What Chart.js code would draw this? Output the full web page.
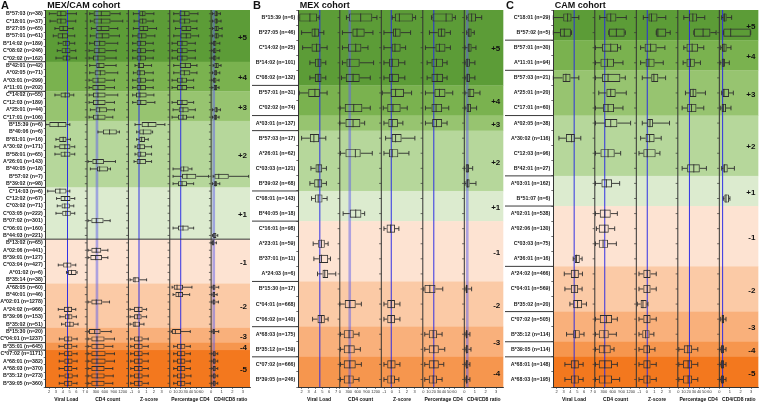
<!DOCTYPE html>
<html>
<head>
<meta charset="utf-8">
<script src="https://cdn.jsdelivr.net/npm/chart.js@4.4.0/dist/chart.umd.min.js"></script>
<style>
  html, body { margin: 0; padding: 0; background: #fff; }
  #wrap { position: relative; width: 760px; height: 403px; overflow: hidden; }
  .panel { position: absolute; top: 0; height: 403px; }
</style>
</head>
<body>
<div id="wrap">
  <div class="panel" style="left:0;width:252px"><canvas id="panelA"></canvas></div>
  <div class="panel" style="left:252px;width:253px"><canvas id="panelB"></canvas></div>
  <div class="panel" style="left:505px;width:255px"><canvas id="panelC"></canvas></div>
</div>
<script>
// ---- data: each box is [low whisker, Q1, median, Q3, high whisker], null = not shown
const N = null;
const columnTitles = ["Viral Load", "CD4 count", "Z-score", "Percentage CD4", "CD4/CD8 ratio"];
const vlTicks = [2, 3, 4, 5, 6, 7];
const cd4Ticks = [0, 300, 600, 900, 1200];
const zTicks = [-1, 0, 1, 2, 3];
const pctTicks = [0, 10, 20, 30, 40, 50, 60];
const ratioTicks = [0, 1, 2, 3];

// ---------- A: MEX/CAM cohort
const mexcamAlleles = [
  "B*57:03 (n=38)", "C*18:01 (n=37)", "B*27:05 (n=65)", "B*57:01 (n=61)", "B*14:02 (n=189)", "C*08:02 (n=246)", "C*02:02 (n=162)",
  "B*42:01 (n=42)", "A*02:05 (n=71)", "A*03:01 (n=299)", "A*11:01 (n=202)",
  "C*14:02 (n=55)", "C*12:03 (n=189)", "A*25:01 (n=44)", "C*17:01 (n=106)",
  "B*15:39 (n=6)", "B*40:06 (n=6)", "B*81:01 (n=16)", "A*30:02 (n=171)", "B*58:01 (n=65)", "A*26:01 (n=143)", "B*40:05 (n=18)", "B*57:02 (n=7)", "B*39:02 (n=98)",
  "C*14:03 (n=6)", "C*12:02 (n=67)", "C*03:02 (n=71)", "C*03:05 (n=222)", "B*07:02 (n=301)", "C*06:01 (n=160)", "B*44:03 (n=221)",
  "B*13:02 (n=65)", "A*02:06 (n=441)", "B*39:01 (n=127)", "C*03:04 (n=427)", "A*01:02 (n=6)", "B*35:14 (n=38)",
  "A*68:05 (n=60)", "B*40:01 (n=46)", "A*02:01 (n=1278)", "A*24:02 (n=966)", "B*39:06 (n=153)", "B*35:02 (n=51)",
  "B*15:30 (n=20)", "C*04:01 (n=1237)",
  "B*35:01 (n=645)",
  "C*07:02 (n=1171)", "A*68:01 (n=382)", "A*68:03 (n=370)", "B*35:12 (n=273)", "B*39:05 (n=360)"
];
const mexcamBandSizes = [7, 4, 4, 9, 7, 6, 6, 2, 1, 5];
const mexcamBandScores = ["+5", "+4", "+3", "+2", "+1", "-1", "-2", "-3", "-4", "-5"];
const mexcamRefs = [4.69, 333, 0.01, 20.2, 0.25];

const mexcamVL = [
  [2.03,3.1,3.72,4.54,5.99], [2.13,3.1,3.72,4.54,5.9], [2.85,3.48,4.06,4.78,5.51], [2.61,3.24,3.96,4.78,5.75], [3.34,3.96,4.45,5.03,5.75], [3.19,3.82,4.45,5.12,5.9], [3.0,3.96,4.54,5.12,5.99],
  N, N, N, N,
  [2.85,3.67,4.35,5.03,5.61], N, N, N,
  [1.5,2.03,3.34,4.54,5.03], N, [3.0,3.48,4.06,4.54,5.12], [2.85,3.48,4.3,5.12,5.75], [2.85,3.67,4.3,5.12,5.75], N, N, N, N,
  [1.79,2.85,3.58,4.54,5.03], [3.09,3.67,4.3,5.12,5.75], [3.19,3.82,4.3,5.03,5.61], [3.0,3.92,4.45,5.17,5.75], N, N, N,
  N, N, N, [3.34,4.06,4.64,5.27,5.9], [4.54,4.78,5.27,5.99,6.09], N,
  N, N, N, [3.34,4.16,4.78,5.36,5.9], [3.58,4.3,4.88,5.41,5.99], [3.82,4.3,5.03,5.61,6.23],
  N, [3.5,4.2,4.78,5.4,6.1],
  [3.45,4.2,4.75,5.4,6.05],
  [3.5,4.2,4.78,5.41,6.09], [3.48,4.22,4.8,5.42,6.1], [3.46,4.2,4.78,5.4,6.05], [3.5,4.24,4.82,5.45,6.12], [3.48,4.2,4.78,5.4,6.08]
];
const mexcamCD4 = [
  [90,220,480,790,1110], [110,220,480,790,1200], [144,311,477,755,1032], [111,289,511,755,1088], [89,233,422,622,1032], [67,222,400,622,977], [67,200,366,622,977],
  [89,311,400,588,977], [89,255,444,622,1032], [67,178,366,622,921], [67,178,366,622,921],
  [67,200,366,622,1032], [67,200,366,622,921], [111,289,422,666,921], [67,200,366,622,866],
  N, [366,533,755,999,1088], N, N, N, [33,178,311,566,955], [111,333,422,700,788], N, N,
  N, N, N, N, [33,144,311,555,777], N, N,
  N, [33,144,311,477,700], [33,111,289,500,700], N, N, N,
  N, N, [33,144,311,511,755], N, N, N,
  [33,67,255,455,810], [33,144,333,588,921],
  [33,144,333,588,866],
  [33,144,333,622,921], [33,144,333,622,921], [33,144,333,588,866], [33,144,340,590,880], [33,144,333,588,866]
];
const mexcamZ = [
  [-0.74,0.05,0.49,0.89,1.99], [-0.65,0.05,0.49,1.02,1.9], [-0.74,0.05,0.58,1.24,2.34], [-0.83,-0.21,0.36,1.02,2.12], [-0.83,-0.3,0.23,0.93,1.9], [-0.83,-0.3,0.23,0.93,1.99], [-0.83,-0.3,0.23,0.93,1.9],
  [-0.52,-0.17,0.05,0.67,1.68], [-0.74,-0.3,0.14,0.8,1.9], [-0.83,-0.3,0.23,0.93,1.9], [-0.83,-0.3,0.23,0.93,1.9],
  [-0.83,-0.39,0.14,1.02,1.99], [-0.83,-0.3,0.23,1.02,2.12], N, N,
  [-0.52,0.36,1.24,2.34,3.45], [-0.3,0.05,0.58,1.68,1.82], [-0.3,0.05,0.36,0.8,1.24], [-0.52,-0.3,0.14,0.8,1.68], [-0.52,-0.21,0.23,0.93,1.68], [-0.65,-0.3,0.14,0.93,1.68], N, N, N,
  N, N, N, N, N, N, N,
  N, N, N, N, N, [-1.18,-0.83,-0.52,0.05,1.02],
  N, N, N, [-1.18,-0.65,-0.08,0.49,1.02], [-1.18,-0.65,-0.21,0.36,1.02], [-1.18,-0.83,-0.52,0.14,0.67],
  N, [-1.09,-0.65,-0.08,0.49,1.24],
  [-1.09,-0.65,-0.08,0.49,1.24],
  [-1.09,-0.65,-0.08,0.49,1.24], [-1.09,-0.65,-0.08,0.49,1.24], [-1.09,-0.65,-0.08,0.49,1.24], [-1.09,-0.65,-0.08,0.49,1.24], [-1.09,-0.65,-0.08,0.49,1.24]
];
const mexcamPct = [
  [6.7,17.6,27.8,37.5,53.5], [6.7,17.6,27.8,38.7,51.6], [9.9,21.4,31,40.7,51.6], [6.7,19.5,31,40.7,54.8], [3.5,13.1,22.7,33.6,48.4], [3.5,13.1,22.7,33.6,48.4], [3.5,13.1,22.7,33.6,48.4],
  [6.7,18.2,29.1,40,51.6], [6.7,18.2,27.2,38.7,51.6], [3.5,13.1,22.7,32.3,45.2], [3.5,13.1,22.7,32.3,45.2],
  N, [3.5,13.1,22.7,33.6,45.2], [5.4,16.3,24.6,35.5,48.4], [3.5,15,24.6,32.3,45.2],
  N, N, N, N, N, N, [5.4,19.5,25.9,35.5,41.9], [5.4,22.7,32.3,50.3,74], [5.4,15,22.7,32.3,45.2],
  N, N, N, N, N, [5.4,15,24.6,35.5,45.2], N,
  N, N, N, N, N, N,
  [3.5,6.7,13.1,24.6,41.9], [5.4,9.9,16.3,24.6,37.5], N, N, N, N,
  [1.6,3.5,9.9,20.8,38.7], N,
  [6.7,13.1,20.8,29.1,38.7],
  [6.7,13.1,20.8,29.1,38.7], [6.7,13.1,20.8,29.1,38.7], [6.7,13.1,20.8,29.1,38.7], [6.7,13.1,20.8,29.1,40], [6.7,13.1,20.8,29.1,38.7]
];
const mexcamRatio = [
  [0.13,0.31,0.5,0.63,0.88], [0.13,0.31,0.5,0.63,0.94], [0.13,0.31,0.5,0.72,1.04], [0.13,0.31,0.5,0.72,1.04], [0.06,0.19,0.31,0.5,0.82], [0.06,0.19,0.31,0.5,0.82], [0.06,0.19,0.31,0.5,0.75],
  [0.19,0.31,0.5,0.72,0.94], [0.13,0.25,0.44,0.57,0.82], [0.06,0.19,0.31,0.5,0.75], [0.06,0.25,0.41,0.57,0.75],
  N, N, [0.13,0.31,0.5,0.63,0.88], [0.13,0.25,0.41,0.57,0.75],
  N, N, N, N, N, N, N, [0.19,0.31,0.72,1.67,3.55], [0.13,0.25,0.41,0.57,0.82],
  N, N, N, N, N, N, [0.13,0.19,0.35,0.5,0.63],
  [0.0,0.09,0.19,0.31,0.5], N, N, N, N, N,
  [0.06,0.13,0.25,0.41,0.72], [0.06,0.13,0.25,0.38,0.57], [0.06,0.13,0.25,0.41,0.69], N, N, N,
  [0.06,0.13,0.25,0.35,0.72], N,
  N,
  [0.06,0.16,0.28,0.44,0.63], [0.06,0.16,0.28,0.44,0.63], [0.06,0.16,0.28,0.44,0.63], [0.06,0.16,0.28,0.44,0.63], [0.06,0.16,0.28,0.44,0.63]
];

// ---------- B: MEX cohort
const mexAlleles = [
  "B*15:39 (n=6)", "B*27:05 (n=46)", "C*14:02 (n=25)", "B*14:02 (n=101)", "C*08:02 (n=132)",
  "B*57:01 (n=31)", "C*02:02 (n=74)",
  "A*03:01 (n=137)",
  "B*57:03 (n=17)", "A*26:01 (n=62)", "C*03:03 (n=121)", "B*39:02 (n=68)",
  "C*08:01 (n=143)", "B*40:05 (n=18)",
  "C*16:01 (n=98)", "A*23:01 (n=59)", "B*37:01 (n=11)", "A*24:03 (n=6)",
  "B*15:30 (n=17)", "C*04:01 (n=668)", "C*06:02 (n=140)",
  "A*68:03 (n=175)", "B*35:12 (n=159)",
  "C*07:02 (n=666)", "B*39:05 (n=246)"
];
const mexBandSizes = [5, 2, 1, 4, 2, 4, 3, 2, 2];
const mexBandScores = ["+5", "+4", "+3", "+2", "+1", "-1", "-2", "-3", "-4"];
const mexRefs = [4.64, 333, -0.08, 20.2, 0.28];

const mexVL = [
  [1.5,1.64,3.19,4.25,4.54], [1.98,3.43,3.92,4.54,5.22], [2.13,3.43,4.16,4.74,5.7], [3.19,3.92,4.4,4.88,5.51], [3.19,3.92,4.4,4.88,5.51],
  [1.64,2.95,3.92,4.64,5.7], N,
  N,
  [1.98,3.19,3.77,4.54,5.51], N, [3.34,4.01,4.4,4.98,5.6], [3.19,3.82,4.4,4.98,5.6],
  [3.43,3.92,4.4,5.03,5.7], N,
  N, [3.67,4.4,4.88,5.36,5.85], [3.77,4.5,4.88,5.85,6.19], [4.3,5.03,5.36,5.85,6.96],
  N, N, [3.58,4.3,4.88,5.36,5.85],
  N, N,
  N, N
];
const mexCD4 = [
  [222,311,699,1088,1243], [89,422,577,832,1110], [89,278,533,722,944], [89,222,333,666,1132], [55,200,444,666,1021],
  N, [10,166,466,755,1021],
  [0,189,444,688,832],
  N, [22,189,522,699,1088], N, N,
  N, [111,333,533,722,832],
  N, N, N, N,
  N, [0,166,333,533,722], N,
  [22,133,311,466,644], [22,133,311,500,688],
  [22,133,333,533,722], [22,133,311,466,644]
];
const mexZ = [
  [0.05,0.4,1.0,2.78,3.14], [-1.05,0.14,0.49,1.16,2.48], [-1.05,-0.03,0.41,1.16,1.82], [-1.05,-0.39,0.05,0.93,1.72], [-1.05,-0.39,0.05,0.93,1.72],
  [-1.27,-0.17,0.49,1.6,2.61], [-1.14,-0.61,0.14,1.16,2.04],
  [-1.05,-0.47,0.05,0.8,1.46],
  [-0.83,-0.03,0.49,1.29,3.05], [-1.05,-0.39,0.05,0.85,2.26], N, N,
  N, N,
  [-1.05,-0.7,-0.17,0.41,0.93], N, N, N,
  N, [-1.05,-0.61,-0.08,0.41,1.07], [-1.05,-0.61,-0.08,0.41,1.07],
  N, N,
  [-1.05,-0.61,-0.08,0.49,1.07], [-1.05,-0.61,-0.08,0.41,0.93]
];
const mexPct = [
  [15.7,17.6,43.9,56.7,61.8], [11.8,27.8,34.9,42.6,52.2], [4.1,23.4,31.1,42.6,52.2], [7.3,15.7,25.3,38.1,45.8], [7.3,15.7,26.6,38.1,45.8],
  [4.1,21.4,31.1,42.6,56.7], [4.1,15.7,24.6,36.2,49],
  [4.1,17,25.3,36.2,45.8],
  N, N, N, N,
  N, N,
  N, N, N, N,
  [0.9,2.2,12.5,23.4,37.5], N, N,
  [2.8,10.5,18.9,26.6,36.2], [2.8,10.5,20.2,29.8,41.3],
  [2.8,10.5,20.2,29.8,39.4], [2.8,10.5,18.9,26.6,36.2]
];
const mexRatio = [
  [0.22,0.31,0.69,1.1,1.64], [0.22,0.31,0.44,0.69,0.94], [0.06,0.31,0.44,0.69,1.1], [0.06,0.13,0.31,0.53,1.0], [0.06,0.19,0.31,0.53,1.0],
  [0.06,0.31,0.53,0.94,1.48], [0.06,0.22,0.38,0.63,1.16],
  N,
  N, N, [0.0,0.13,0.28,0.44,0.79], [0.06,0.19,0.31,0.5,1.1],
  N, N,
  N, N, N, N,
  [0.06,0.13,0.22,0.31,0.69], N, N,
  [0.06,0.13,0.22,0.31,0.53], [0.06,0.13,0.22,0.38,0.63],
  [0.06,0.13,0.22,0.38,0.53], [0.06,0.13,0.22,0.31,0.53]
];

// ---------- C: CAM cohort
const camAlleles = [
  "C*18:01 (n=29)", "B*57:02 (n=5)",
  "B*57:01 (n=30)", "A*11:01 (n=94)",
  "B*57:03 (n=21)", "A*25:01 (n=20)", "C*17:01 (n=60)",
  "A*02:05 (n=38)", "A*30:02 (n=116)", "C*12:03 (n=96)", "B*42:01 (n=27)",
  "A*03:01 (n=162)", "B*51:07 (n=6)",
  "A*02:01 (n=538)", "A*02:06 (n=130)", "C*03:03 (n=75)", "A*36:01 (n=16)",
  "A*24:02 (n=466)", "C*04:01 (n=569)", "B*35:02 (n=20)",
  "C*07:02 (n=505)", "B*35:12 (n=114)",
  "B*39:05 (n=114)",
  "A*68:01 (n=148)", "A*68:03 (n=195)"
];
const camBandSizes = [2, 2, 3, 4, 2, 4, 3, 2, 1, 2];
const camBandScores = ["+5", "+4", "+3", "+2", "+1", "-1", "-2", "-3", "-4", "-5"];
const camRefs = [4.54, 333, 0.05, 21.4, 0.31];

const camVL = [
  [1.5,2.95,3.58,4.16,5.22], [1.5,2.47,3.1,4.06,4.16],
  N, N,
  [1.5,2.85,3.34,4.01,5.22], N, N,
  N, [2.32,3.34,4.16,4.64,5.51], N, N,
  N, N,
  N, N, N, [4.4,4.64,4.88,5.36,5.7],
  [3.1,4.06,4.64,5.22,5.75], [3.19,4.06,4.64,5.12,5.7], [3.92,4.4,5.03,5.7,6.33],
  N, [3.43,4.4,4.74,5.36,5.98],
  N,
  [3.19,4.06,4.64,5.22,5.85], [3.19,4.06,4.64,5.22,5.85]
];
const camCD4 = [
  [166,388,533,722,1054], [466,466,722,1000,1021],
  [22,244,533,777,866], [22,189,422,644,944],
  [22,244,444,855,1021], [133,388,533,699,1054], [22,278,444,644,944],
  [22,333,533,755,1199], N, [22,189,444,666,866], N,
  [22,222,388,577,832], N,
  [22,166,333,533,755], [55,133,333,466,666], [22,133,277,444,722], N,
  N, N, N,
  [22,166,388,577,755], [22,133,311,466,722],
  [22,133,311,533,644],
  [22,133,333,577,755], [22,133,333,577,832]
];
const camZ = [
  [-0.47,0.21,0.61,1.4,2.5], [1.24,1.24,1.46,2.56,3.09],
  [-0.83,-0.3,0.49,1.29,2.39], [-0.83,-0.17,0.27,1.02,2.17],
  [-0.61,0.58,0.93,1.51,2.48], N, N,
  [-0.61,0.05,0.41,0.8,3.0], [-0.83,-0.17,0.36,1.02,1.9], [-1.05,-0.47,0.05,1.16,1.73], N,
  N, N,
  N, N, N, N,
  [-1.05,-0.47,0.05,0.49,1.24], [-1.05,-0.47,0.05,0.49,1.24], [-1.27,-0.83,-0.52,-0.03,0.14],
  [-1.05,-0.47,0.05,0.49,1.24], [-1.05,-0.61,-0.17,0.36,0.93],
  [-1.05,-0.47,0.05,0.41,1.07],
  [-1.05,-0.47,0.05,0.49,1.24], [-1.05,-0.47,0.05,0.49,1.24]
];
const camPct = [
  [10.5,20.2,27.9,36.2,50.9], [29.8,29.8,47.7,61.8,72.7],
  [10.5,15.7,26.6,38.1,49], [9.2,15.7,23.4,31.7,42.6],
  N, [13.7,22.1,28.5,34.9,52.2], [7.3,17,25.3,34.9,49],
  N, N, N, [7.3,17,29.8,41.3,54.1],
  N, N,
  N, N, N, N,
  N, N, N,
  N, N,
  [0.9,10.5,18.2,26.6,37.5],
  [0.9,9.2,18.9,26.6,37.5], [0.9,9.2,18.9,26.6,37.5]
];
const camRatio = [
  [0.22,0.38,0.47,0.69,1.16], [0.38,0.38,1.07,2.96,2.96],
  [0.13,0.25,0.44,0.69,1.1], [0.06,0.22,0.38,0.53,0.94],
  N, [0.22,0.31,0.44,0.91,1.32], [0.13,0.22,0.38,0.63,1.1],
  N, N, N, [0.22,0.38,0.47,0.79,1.42],
  N, [0.38,0.47,0.63,0.91,1.0],
  N, N, N, N,
  N, N, N,
  [0.13,0.22,0.31,0.44,0.63], N,
  [0.06,0.16,0.28,0.44,0.63],
  [0.06,0.16,0.28,0.44,0.63], [0.06,0.16,0.28,0.44,0.63]
];

// ---- styling
const FONT = '"Liberation Sans", Arial, Helvetica, sans-serif';
Chart.defaults.font.family = FONT;
const boxColor = "#2e2e2e";
const scoreColors = {
  "+5": "#5c9c37", "+4": "#7ab24f", "+3": "#97c470", "+2": "#b6d79b", "+1": "#dcebcf",
  "-1": "#fde3d2", "-2": "#fbcaa6", "-3": "#f9b07b", "-4": "#f6964e", "-5": "#f3781e"
};
const axisSpecs = [
  { min: 1.5, max: 7.55, ticks: vlTicks, weight: 1 },
  { min: 0, max: 1390, ticks: cd4Ticks, weight: 1 },
  { min: -1.4, max: 4.1, ticks: zTicks, weight: 1 },
  { min: -1, max: 79, ticks: pctTicks, weight: 1 },
  { min: 0, max: 3.68, ticks: ratioTicks, weight: 0.94 }
];

function buildPanel(canvasId, p) {
  const n = p.alleles.length;
  const bandStarts = [];
  let acc = 0;
  p.bandSizes.forEach((sz) => { bandStarts.push(acc); acc += sz; });

  const datasets = p.columns.map((rows, i) => ({
    type: "bar",
    data: rows.map((r) => (r ? [r[1], r[3]] : null)),
    stats: rows,
    xAxisID: "x" + i,
    yAxisID: "y",
    grouped: false,
    barPercentage: p.barPct,
    categoryPercentage: 1,
    backgroundColor: "rgba(255,255,255,0)",
    borderColor: boxColor,
    borderWidth: 0.9,
    borderSkipped: false
  }));

  const scales = {
    y: {
      type: "category",
      offset: true,
      afterFit: (s) => { s.width = p.labelWidth; },
      grid: { display: true, drawOnChartArea: false, drawTicks: true, tickLength: 2, color: "#333", lineWidth: 0.7 },
      border: { display: true, color: "#333", width: 1 },
      ticks: { autoSkip: false, padding: 1, color: "#1a1a1a", font: { size: 5.3, weight: "bold" } }
    }
  };
  axisSpecs.forEach((a, i) => {
    scales["x" + i] = {
      type: "linear",
      position: "bottom",
      stack: "cols",
      stackWeight: a.weight,
      min: a.min,
      max: a.max,
      afterBuildTicks: (s) => { s.ticks = a.ticks.map((v) => ({ value: v })); },
      afterFit: (s) => { s.height = 16; },
      grid: { display: true, drawOnChartArea: false, drawTicks: true, tickLength: 2, color: "#333", lineWidth: 0.6 },
      border: { display: true, color: "#333", width: 1 },
      ticks: { autoSkip: false, maxRotation: 0, padding: 0.5, color: "#333", font: { size: 4 }, callback: (v) => String(v) },
      title: { display: true, text: columnTitles[i], color: "#111", font: { size: 5, weight: "bold" }, padding: { top: 1, bottom: 0 } }
    };
  });

  const panelPlugin = {
    id: "panel_" + canvasId,
    beforeDraw(chart) {
      const { ctx, chartArea: a } = chart;
      const ys = chart.scales.y;
      const rowH = a.height / n;
      ctx.save();
      p.bandSizes.forEach((sz, k) => {
        const top = ys.getPixelForValue(bandStarts[k]) - rowH / 2;
        ctx.fillStyle = scoreColors[p.bandScores[k]];
        ctx.fillRect(a.left, top, a.right - a.left, sz * rowH + 0.3);
      });
      ctx.restore();
    },
    beforeDatasetsDraw(chart) {
      const { ctx, chartArea: a } = chart;
      const ys = chart.scales.y;
      const rowH = a.height / n;
      ctx.save();
      // reference (median) lines
      p.refs.forEach((v, i) => {
        const xs = chart.scales["x" + i];
        const x = xs.getPixelForValue(v);
        ctx.beginPath();
        if (p.wideRefs.includes(i)) {
          ctx.strokeStyle = "rgba(95,95,235,0.5)";
          ctx.lineWidth = 2.6;
        } else {
          ctx.strokeStyle = "rgba(40,40,230,0.95)";
          ctx.lineWidth = 1;
        }
        ctx.moveTo(x, a.top);
        ctx.lineTo(x, a.bottom);
        ctx.stroke();
      });
      // sub-graph axis lines with row ticks
      ctx.strokeStyle = "#333";
      for (let i = 1; i < 5; i++) {
        const x = chart.scales["x" + i].left;
        ctx.lineWidth = 1;
        ctx.beginPath();
        ctx.moveTo(x, a.top);
        ctx.lineTo(x, a.bottom);
        ctx.stroke();
        ctx.lineWidth = 0.7;
        ctx.beginPath();
        for (let r = 0; r < n; r++) {
          const y = ys.getPixelForValue(r);
          ctx.moveTo(x - 2.2, y);
          ctx.lineTo(x, y);
        }
        ctx.stroke();
      }
      // group separators in the label area
      ctx.lineWidth = 1;
      ctx.strokeStyle = "#3a3a3a";
      for (let k = 1; k < p.bandSizes.length; k++) {
        const y = ys.getPixelForValue(bandStarts[k]) - rowH / 2;
        const full = p.fullSplit && p.bandScores[k] === "-1";
        ctx.beginPath();
        ctx.moveTo(p.sepLeft, y);
        ctx.lineTo(full ? a.right : a.left, y);
        ctx.stroke();
      }
      ctx.restore();
    },
    afterDatasetsDraw(chart) {
      const { ctx, chartArea: a } = chart;
      const ys = chart.scales.y;
      const rowH = a.height / n;
      ctx.save();
      ctx.strokeStyle = boxColor;
      ctx.lineWidth = 0.9;
      chart.data.datasets.forEach((ds, di) => {
        const meta = chart.getDatasetMeta(di);
        const xs = chart.scales[ds.xAxisID];
        meta.data.forEach((bar, i) => {
          const s = ds.stats[i];
          if (!s) return;
          const px = (v) => xs.getPixelForValue(v);
          const y = bar.y;
          const h = bar.height;
          const cap = h * 0.28;
          ctx.beginPath();
          ctx.moveTo(px(s[0]), y); ctx.lineTo(px(s[1]), y);
          ctx.moveTo(px(s[3]), y); ctx.lineTo(px(s[4]), y);
          ctx.moveTo(px(s[0]), y - cap); ctx.lineTo(px(s[0]), y + cap);
          ctx.moveTo(px(s[4]), y - cap); ctx.lineTo(px(s[4]), y + cap);
          ctx.moveTo(px(s[2]), y - h / 2); ctx.lineTo(px(s[2]), y + h / 2);
          ctx.stroke();
        });
      });
      // score labels on the right of each band
      ctx.fillStyle = "#111";
      ctx.font = "bold 8px " + FONT;
      ctx.textAlign = "right";
      ctx.textBaseline = "middle";
      p.bandSizes.forEach((sz, k) => {
        const top = ys.getPixelForValue(bandStarts[k]) - rowH / 2;
        ctx.fillText(p.bandScores[k], a.right - 3, top + (sz * rowH) / 2 + 1.5);
      });
      ctx.restore();
    },
    afterDraw(chart) {
      const { ctx, chartArea: a } = chart;
      ctx.save();
      ctx.fillStyle = "#111";
      ctx.textAlign = "left";
      ctx.textBaseline = "alphabetic";
      ctx.font = "bold 11px " + FONT;
      ctx.fillText(p.letter, 1, 8.6);
      ctx.font = "bold 9px " + FONT;
      ctx.fillText(p.title, a.left + 1.5, 8.2);
      ctx.restore();
    }
  };

  new Chart(document.getElementById(canvasId), {
    type: "bar",
    data: { labels: p.alleles, datasets },
    options: {
      indexAxis: "y",
      responsive: true,
      maintainAspectRatio: false,
      animation: false,
      layout: { padding: { top: 10, right: p.padRight, left: 0, bottom: 0 } },
      plugins: { legend: { display: false }, tooltip: { enabled: false }, title: { display: false } },
      scales
    },
    plugins: [panelPlugin]
  });
}

buildPanel("panelA", {
  letter: "A", title: "MEX/CAM cohort",
  alleles: mexcamAlleles, bandSizes: mexcamBandSizes, bandScores: mexcamBandScores,
  columns: [mexcamVL, mexcamCD4, mexcamZ, mexcamPct, mexcamRatio],
  refs: mexcamRefs, wideRefs: [1, 4],
  labelWidth: 45.7, padRight: 2, barPct: 0.68, sepLeft: 8, fullSplit: true
});
buildPanel("panelB", {
  letter: "B", title: "MEX cohort",
  alleles: mexAlleles, bandSizes: mexBandSizes, bandScores: mexBandScores,
  columns: [mexVL, mexCD4, mexZ, mexPct, mexRatio],
  refs: mexRefs, wideRefs: [1, 4],
  labelWidth: 46.3, padRight: 0, barPct: 0.54, sepLeft: 0, fullSplit: false
});
buildPanel("panelC", {
  letter: "C", title: "CAM cohort",
  alleles: camAlleles, bandSizes: camBandSizes, bandScores: camBandScores,
  columns: [camVL, camCD4, camZ, camPct, camRatio],
  refs: camRefs, wideRefs: [],
  labelWidth: 48.3, padRight: 0, barPct: 0.54, sepLeft: 0, fullSplit: false
});
</script>
</body>
</html>
